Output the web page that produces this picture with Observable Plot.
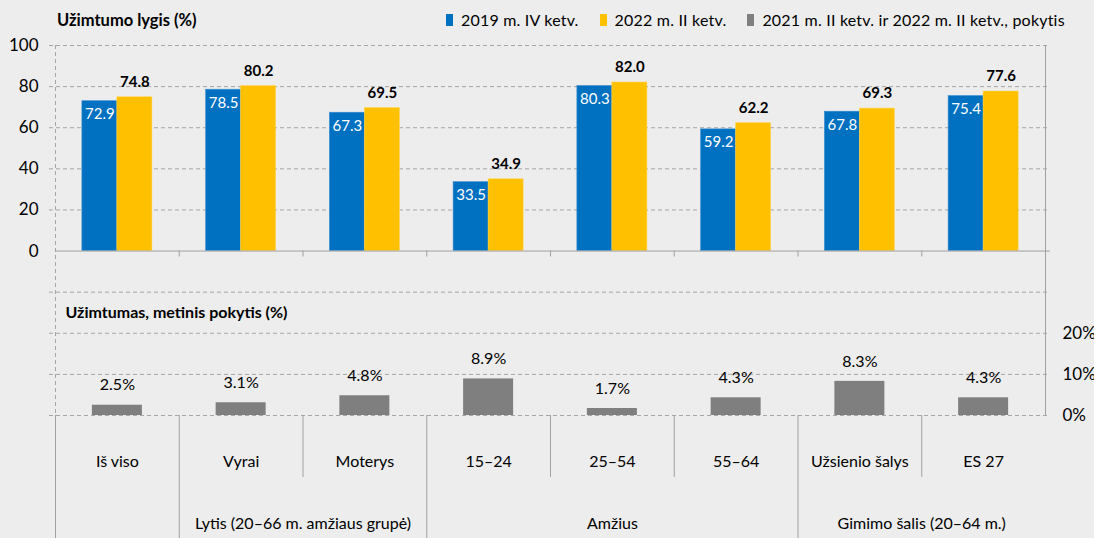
<!DOCTYPE html>
<html>
<head>
<meta charset="utf-8">
<script src="https://cdn.jsdelivr.net/npm/d3@7"></script>
<script src="https://cdn.jsdelivr.net/npm/@observablehq/plot@0.6"></script>
<style>
  html, body { margin: 0; padding: 0; background: #ededed; }
  #wrap { position: relative; width: 1094px; height: 538px; font-family: Lato, "Open Sans", sans-serif; color: #000; }
  #title { position: absolute; left: 57px; top: 9px; font-weight: bold; font-size: 16.5px; line-height: 22px; }
  #legend { position: absolute; left: 446px; top: 9px; display: flex; font-size: 16px; letter-spacing: 0.2px; line-height: 22px; white-space: nowrap; }
  #legend .item { display: flex; align-items: center; margin-right: 21px; }
  #legend .sw { width: 7px; height: 12px; margin-right: 8px; }
  #chart { position: absolute; left: 0; top: 30px; }
  #chart svg { overflow: visible; }
</style>
</head>
<body>
<div id="wrap">
  <div id="title"></div>
  <div id="legend"></div>
  <div id="chart"></div>
</div>
<script>
// ---- data ----
const categories = ["Iš viso", "Vyrai", "Moterys", "15–24", "25–54", "55–64", "Užsienio šalys", "ES 27"];
const level2019 = [72.9, 78.5, 67.3, 33.5, 80.3, 59.2, 67.8, 75.4];
const level2022 = [74.8, 80.2, 69.5, 34.9, 82.0, 62.2, 69.3, 77.6];
const change = [2.5, 3.1, 4.8, 8.9, 1.7, 4.3, 8.3, 4.3];
const groups = [
  {label: "Lytis (20–66 m. amžiaus grupė)", members: ["Vyrai", "Moterys"]},
  {label: "Amžius", members: ["15–24", "25–54", "55–64"]},
  {label: "Gimimo šalis (20–64 m.)", members: ["Užsienio šalys", "ES 27"]}
];
const seriesNames = ["2019 m. IV ketv.", "2022 m. II ketv.", "2021 m. II ketv. ir 2022 m. II ketv., pokytis"];
const seriesColors = ["#0070C0", "#FFC000", "#7F7F7F"];
const leftTicks = [0, 20, 40, 60, 80, 100];
const rightTicks = [0, 10, 20];
const gridValues = [-80, -60, -40, -20, 20, 40, 60, 80, 100];
const titleTop = "Užimtumo lygis (%)";
const titleBottom = "Užimtumas, metinis pokytis (%)";
const titleBottomAt = 25; // on the right (percent) scale

// ---- layout ----
const W = 1094, H = 508, mL = 55, mR = 49, mT = 15, mB = 123;
const bw = (W - mL - mR) / categories.length;
const frameH = H - mT - mB;
// right scale (percent change) shares the left scale: 0% at -80, 10% per 20 units
const toLeft = v => v * 2 - 80;
const fromLeft = v => (v + 80) / 2;

const rows = categories.map((c, i) => ({cat: c, a: level2019[i], b: level2022[i], ch: change[i]}));

// header
document.getElementById("title").textContent = titleTop;
const legend = document.getElementById("legend");
seriesNames.forEach((n, i) => {
  const it = document.createElement("div"); it.className = "item";
  const sw = document.createElement("span"); sw.className = "sw"; sw.style.background = seriesColors[i];
  const tx = document.createElement("span"); tx.textContent = n;
  it.appendChild(sw); it.appendChild(tx); legend.appendChild(it);
});

const fullSeps = [categories[0], ...groups.map(g => g.members[0])];
const shortSeps = groups.flatMap(g => g.members.slice(1));
const gridColor = "#a6a6a6";
const axisColor = "#a0a0a0";

const chart = Plot.plot({
  width: W, height: H,
  marginTop: mT, marginBottom: mB, marginLeft: mL, marginRight: mR,
  style: {background: "transparent", fontFamily: "Lato, sans-serif", fontSize: "15px", color: "#000"},
  x: {type: "band", domain: categories, padding: 0, round: false, axis: null},
  y: {domain: [-80, 100], axis: null},
  marks: [
    // gridlines
    Plot.ruleY(gridValues, {stroke: gridColor, strokeDasharray: "4,3", insetLeft: -6, insetRight: -5}),
    // left axis line (dashed) and right axis line (solid)
    Plot.ruleX([categories[0]], {dx: -bw / 2, stroke: gridColor, strokeDasharray: "4,3"}),
    Plot.ruleX([categories[categories.length - 1]], {dx: bw / 2, stroke: axisColor}),
    // small boundary ticks under zero line
    Plot.ruleX(categories.slice(1), {dx: -bw / 2, y1: 0, y2: 0, insetBottom: -6, stroke: axisColor}),
    // bottom separators
    Plot.ruleX(fullSeps, {dx: -bw / 2, insetTop: frameH, insetBottom: -mB, stroke: axisColor}),
    Plot.ruleX(shortSeps, {dx: -bw / 2, insetTop: frameH, insetBottom: -62, stroke: axisColor}),
    // bars
    Plot.barY(rows, {x: "cat", y: "a", fill: seriesColors[0], stroke: "#3b8fd0", strokeWidth: 0.6, insetLeft: bw / 2 - 35, insetRight: bw / 2}),
    Plot.barY(rows, {x: "cat", y: "b", fill: seriesColors[1], stroke: "#ffd24d", strokeWidth: 0.6, insetLeft: bw / 2, insetRight: bw / 2 - 35}),
    Plot.barY(rows, {x: "cat", y1: toLeft(0), y2: d => toLeft(d.ch), fill: seriesColors[2], insetLeft: (bw - 50) / 2, insetRight: (bw - 50) / 2}),
    // zero line
    Plot.ruleY([0], {stroke: axisColor, insetRight: -5}),
    // labels
    Plot.text(rows, {x: "cat", y: "a", text: d => d.a.toFixed(1), dx: -17.5, dy: 13, fill: "white", fontSize: 15}),
    Plot.text(rows, {x: "cat", y: "b", text: d => d.b.toFixed(1), dx: 17.5, dy: -15, fill: "#000", fontWeight: "bold", fontSize: 15}),
    Plot.text(rows, {x: "cat", y: d => toLeft(d.ch), text: d => d.ch.toFixed(1) + "%", dy: -20, fill: "#000", fontSize: 16}),
    // panel subtitle
    Plot.text([titleBottom], {frameAnchor: "left", y: toLeft(titleBottomAt), text: d => d, dx: 10, textAnchor: "start", fontWeight: "bold", fontSize: 16}),
    // axes
    Plot.axisY(leftTicks, {anchor: "left", tickSize: 0, tickPadding: 17, fontSize: 17, label: null, color: "#000"}),
    Plot.axisY(rightTicks.map(toLeft), {anchor: "right", tickSize: 0, tickPadding: 17, fontSize: 17, label: null, tickFormat: d => fromLeft(d) + "%"}),
    // category labels
    Plot.text(categories, {x: d => d, frameAnchor: "bottom", dy: 51, fontSize: 16, fill: "#000"}),
    // group labels
    ...groups.map(g => Plot.text([g], {x: d => d.members[0], text: d => d.label, frameAnchor: "bottom", dy: 113, dx: (g.members.length - 1) * bw / 2, fontSize: 16, fill: "#000"}))
  ]
});
document.getElementById("chart").appendChild(chart);
</script>
</body>
</html>
